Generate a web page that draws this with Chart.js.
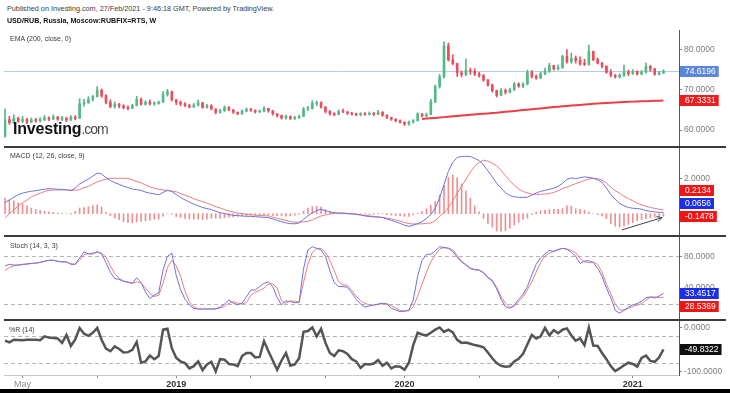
<!DOCTYPE html>
<html>
<head>
<meta charset="utf-8">
<title>USD/RUB weekly</title>
<script src="https://cdn.jsdelivr.net/npm/chart.js@4.4.1/dist/chart.umd.min.js"></script>
<style>
  html, body { margin: 0; padding: 0; background: #fff; }
  body { position: relative; width: 730px; height: 393px; overflow: hidden; font-family: "Liberation Sans", Arial, sans-serif; }
  canvas { position: absolute; left: 0; }
  .t { position: absolute; white-space: nowrap; color: #3c3c3c; font-size: 7px; line-height: 7px; }
  .sep { position: absolute; left: 4px; width: 722px; height: 2px; background: #3b3b3b; }
  #logo { position: absolute; left: 13px; top: 121px; line-height: 16px; white-space: nowrap; }
  #logo b { font-size: 16px; color: #111; letter-spacing: -0.2px; }
  #logo span { font-size: 14px; color: #4a4a4a; letter-spacing: -1px; }
  #foot { position: absolute; left: 0; top: 389px; width: 730px; height: 4px; background: #000; }
</style>
</head>
<body>
<canvas id="price" width="730" height="117" style="top:30px"></canvas>
<canvas id="macd" width="730" height="88" style="top:148px"></canvas>
<canvas id="stoch" width="730" height="83" style="top:237px"></canvas>
<canvas id="wr" width="730" height="69" style="top:320px"></canvas>
<div class="sep" style="top:146px"></div>
<div class="sep" style="top:235px"></div>
<div class="sep" style="top:319px"></div>
<div class="t" style="left:7px;top:5px;font-size:7.25px">Published on Investing.com, 27/Feb/2021 - 9:46:18 GMT, Powered by TradingView.</div>
<div class="t" style="left:7px;top:18px;font-weight:bold;color:#111;font-size:7.1px">USD/RUB, Russia, Moscow:RUBFIX=RTS, W</div>
<div class="t" style="left:10px;top:35px">EMA (200, close, 0)</div>
<div class="t" style="left:10px;top:152px">MACD (12, 26, close, 9)</div>
<div class="t" style="left:10px;top:242px">Stoch (14, 3, 3)</div>
<div class="t" style="left:9px;top:326px">%R (14)</div>
<div id="logo"><b>Investing</b><span>.com</span></div>
<div id="foot"></div>
<script>
// weekly bars, index 0 = first week on the chart (Apr 2018)
const xTickIdx = [4, 21, 39, 56, 73, 91, 108, 126, 143];
const xTickText = ["May", "", "2019", "", "", "2020", "", "", "2021"];
const priceTicks = [60, 70, 80];
const macdTicks = [2];
const stochTicks = [40, 80];
const stochLevels = [20, 80];
const wrTicks = [-100, 0];
const wrLevels = [-20, -80];

const firstOpen = 58.4;
const closes = [
  62.6, 61.8, 62.9, 62.2, 62.6, 62.0, 62.5, 62.3, 62.6, 63.0,
  62.7, 63.2, 62.7, 62.9, 62.5, 63.2, 62.9, 66.5, 66.8, 67.6,
  68.3, 69.9, 68.5, 66.9, 65.8, 66.4, 66.0, 65.6, 65.4, 66.1,
  67.6, 66.4, 66.9, 66.5, 66.6, 66.9, 68.8, 69.5, 67.5, 66.9,
  66.5, 66.1, 65.7, 66.2, 66.8, 65.6, 66.0, 65.2, 64.4, 64.8,
  65.6, 65.0, 64.4, 64.0, 64.7, 65.1, 64.9, 64.5, 64.7, 65.4,
  64.8, 64.0, 63.6, 63.0, 63.4, 62.9, 63.1, 63.4, 65.2, 65.3,
  66.6, 66.8, 65.7, 64.6, 64.0, 63.8, 64.6, 64.5, 64.2, 63.9,
  63.8, 64.0, 63.9, 64.1, 63.9, 64.4, 63.7, 63.1, 62.7, 62.3,
  61.9, 61.5, 62.0, 62.3, 64.0, 63.5, 63.8, 67.0, 70.8, 73.2,
  80.9, 77.4, 76.5, 74.2, 73.8, 74.8, 74.6, 73.9, 73.5, 72.4,
  71.2, 69.8, 68.6, 69.8, 69.4, 70.0, 71.5, 70.9, 71.4, 74.3,
  73.3, 72.9, 74.0, 74.6, 76.0, 75.2, 75.5, 78.3, 76.9, 77.8,
  77.3, 76.4, 76.3, 79.5, 77.5, 76.6, 75.8, 74.3, 73.6, 73.2,
  73.6, 74.4, 74.0, 74.5, 73.9, 74.4, 75.8, 75.2, 73.8, 74.2,
  74.6196
];
const highs = [
  65.2, 63.4, 63.8, 63.2, 63.4, 62.9, 63.0, 62.9, 63.1, 63.6,
  63.3, 63.8, 63.4, 63.4, 63.2, 63.6, 63.6, 67.8, 67.6, 68.3,
  68.6, 70.8, 70.2, 68.8, 67.5, 67.0, 66.6, 66.3, 66.0, 66.4,
  68.4, 68.0, 67.3, 67.5, 67.0, 67.2, 69.6, 70.1, 69.7, 67.6,
  67.2, 66.8, 66.4, 66.6, 67.5, 66.8, 66.4, 66.3, 65.3, 65.2,
  66.0, 65.8, 65.1, 64.5, 65.0, 65.5, 65.4, 65.0, 65.0, 65.8,
  65.4, 64.8, 64.1, 63.7, 63.7, 63.5, 63.4, 63.7, 65.6, 65.9,
  67.3, 67.2, 67.0, 65.8, 64.8, 64.3, 65.0, 65.2, 64.6, 64.4,
  64.2, 64.3, 64.3, 64.5, 64.4, 64.9, 64.6, 63.8, 63.2, 62.8,
  62.5, 62.1, 62.2, 62.6, 64.3, 64.1, 64.2, 67.6, 71.2, 73.8,
  81.9, 81.6, 78.7, 76.6, 74.7, 77.7, 75.4, 75.2, 74.3, 73.8,
  72.6, 71.4, 69.9, 70.3, 70.2, 70.4, 71.8, 71.7, 71.8, 74.9,
  74.8, 73.7, 74.4, 75.4, 76.6, 76.1, 76.2, 78.6, 80.0, 79.1,
  78.4, 78.2, 77.6, 81.1, 79.6, 77.9, 76.8, 76.0, 75.0, 73.8,
  74.0, 76.1, 74.9, 75.0, 74.7, 74.8, 76.6, 76.0, 75.3, 74.6,
  75.0
];
const lows = [
  58.2, 61.4, 61.6, 61.9, 61.8, 61.6, 61.8, 61.9, 62.0, 62.3,
  62.3, 62.6, 62.4, 62.3, 62.1, 62.3, 62.5, 62.9, 65.9, 66.6,
  67.2, 68.2, 68.1, 66.5, 65.5, 65.4, 65.5, 65.2, 65.0, 65.3,
  66.0, 66.2, 66.2, 66.2, 66.1, 66.4, 66.8, 68.4, 67.2, 66.3,
  66.0, 65.8, 65.5, 65.6, 66.0, 65.4, 65.4, 65.0, 64.0, 64.2,
  64.6, 64.8, 64.1, 63.8, 63.9, 64.5, 64.6, 64.2, 64.3, 64.5,
  64.4, 63.7, 63.2, 62.7, 62.7, 62.6, 62.6, 62.9, 63.3, 64.8,
  65.2, 66.0, 65.4, 64.2, 63.7, 63.5, 63.8, 64.3, 63.8, 63.7,
  63.5, 63.5, 63.6, 63.7, 63.6, 63.8, 63.4, 62.8, 62.4, 62.0,
  61.7, 61.1, 61.2, 61.7, 62.2, 63.2, 63.3, 63.8, 66.8, 70.4,
  72.9, 77.1, 76.2, 73.3, 73.2, 73.5, 73.8, 73.5, 73.1, 72.1,
  70.9, 69.4, 68.2, 68.5, 68.9, 69.2, 69.8, 70.6, 70.5, 71.2,
  72.9, 72.6, 72.8, 73.7, 74.3, 74.9, 74.9, 75.3, 76.6, 76.6,
  76.6, 76.1, 76.0, 76.1, 77.2, 76.4, 75.4, 74.1, 73.2, 72.9,
  72.9, 73.3, 73.5, 73.8, 73.6, 73.7, 74.1, 74.6, 73.6, 73.7,
  74.0
];
const emaFrom = 95;
const ema200 = [
  62.75, 62.84, 62.93, 63.01, 63.10, 63.20, 63.30, 63.40, 63.50, 63.60,
  63.69, 63.78, 63.87, 63.95, 64.04, 64.13, 64.22, 64.30, 64.41, 64.52,
  64.62, 64.73, 64.84, 64.94, 65.05, 65.16, 65.26, 65.37, 65.48, 65.58,
  65.69, 65.80, 65.90, 65.99, 66.07, 66.16, 66.24, 66.33, 66.41, 66.50,
  66.57, 66.64, 66.71, 66.78, 66.85, 66.91, 66.96, 67.01, 67.05, 67.09,
  67.13, 67.17, 67.21, 67.25, 67.29, 67.3331
];

const macdLine = [
  0.63, 0.78, 0.93, 1.07, 1.16, 1.22, 1.27, 1.30, 1.34, 1.38,
  1.41, 1.40, 1.38, 1.36, 1.35, 1.30, 1.45, 1.68, 1.82, 1.95,
  2.12, 2.29, 2.25, 2.03, 1.88, 1.75, 1.66, 1.55, 1.48, 1.39,
  1.36, 1.31, 1.22, 1.16, 1.12, 1.07, 1.20, 1.32, 1.25, 1.08,
  0.92, 0.78, 0.65, 0.54, 0.45, 0.35, 0.29, 0.23, 0.14, 0.05,
  0.01, -0.05, -0.09, -0.11, -0.13, -0.15, -0.15, -0.17, -0.19, -0.20,
  -0.23, -0.30, -0.38, -0.45, -0.52, -0.56, -0.57, -0.52, -0.32, -0.12,
  0.05, 0.18, 0.25, 0.17, 0.10, 0.05, 0.03, 0.02, 0.00, -0.01,
  -0.04, -0.07, -0.13, -0.16, -0.18, -0.19, -0.22, -0.30, -0.38, -0.46,
  -0.55, -0.65, -0.72, -0.65, -0.56, -0.45, -0.27, -0.05, 0.30, 0.90,
  1.65, 2.39, 2.90, 3.18, 3.23, 3.24, 3.23, 3.12, 3.00, 2.75,
  2.42, 2.08, 1.72, 1.45, 1.18, 1.03, 0.96, 0.92, 0.92, 0.93,
  1.05, 1.17, 1.26, 1.32, 1.38, 1.44, 1.55, 1.71, 1.94, 2.02,
  1.98, 2.03, 2.08, 2.05, 2.00, 1.92, 1.78, 1.45, 1.08, 0.82,
  0.58, 0.45, 0.35, 0.31, 0.29, 0.26, 0.18, 0.13, 0.10, 0.08,
  0.0656
];
const signalLine = [
  -0.25, 0.00, 0.20, 0.45, 0.62, 0.77, 0.95, 1.06, 1.15, 1.25,
  1.31, 1.33, 1.34, 1.35, 1.35, 1.33, 1.32, 1.36, 1.47, 1.55,
  1.67, 1.80, 1.88, 1.95, 2.00, 2.00, 2.00, 2.00, 1.99, 1.91,
  1.82, 1.75, 1.62, 1.52, 1.43, 1.38, 1.34, 1.32, 1.28, 1.24,
  1.14, 1.05, 0.95, 0.85, 0.76, 0.68, 0.60, 0.50, 0.40, 0.32,
  0.24, 0.15, 0.09, 0.04, 0.00, -0.04, -0.06, -0.08, -0.10, -0.11,
  -0.13, -0.20, -0.26, -0.32, -0.38, -0.44, -0.48, -0.48, -0.46, -0.43,
  -0.35, -0.24, -0.13, -0.07, -0.02, 0.02, 0.04, 0.04, 0.02, -0.01,
  -0.03, -0.07, -0.10, -0.12, -0.15, -0.18, -0.21, -0.25, -0.30, -0.36,
  -0.42, -0.50, -0.56, -0.58, -0.58, -0.57, -0.55, -0.52, -0.40, -0.15,
  0.05, 0.34, 0.72, 1.15, 1.55, 1.95, 2.35, 2.68, 2.90, 3.02,
  2.97, 2.85, 2.70, 2.45, 2.15, 1.85, 1.60, 1.40, 1.25, 1.18,
  1.10, 1.08, 1.09, 1.11, 1.14, 1.20, 1.30, 1.42, 1.50, 1.60,
  1.70, 1.78, 1.88, 1.96, 2.00, 1.98, 1.90, 1.72, 1.50, 1.30,
  1.15, 0.98, 0.85, 0.73, 0.60, 0.50, 0.42, 0.35, 0.30, 0.25,
  0.2134
];
const macdHist = [
  0.88, 0.78, 0.73, 0.62, 0.54, 0.45, 0.32, 0.24, 0.19, 0.13,
  0.10, 0.07, 0.04, 0.01, 0.00, -0.03, 0.13, 0.32, 0.35, 0.40,
  0.45, 0.49, 0.37, 0.08, -0.12, -0.25, -0.34, -0.45, -0.51, -0.52,
  -0.46, -0.44, -0.40, -0.36, -0.31, -0.31, -0.14, 0.00, -0.03, -0.16,
  -0.22, -0.27, -0.30, -0.31, -0.31, -0.33, -0.31, -0.27, -0.26, -0.27,
  -0.23, -0.20, -0.18, -0.15, -0.13, -0.11, -0.09, -0.09, -0.09, -0.09,
  -0.10, -0.10, -0.12, -0.13, -0.14, -0.12, -0.09, -0.04, 0.14, 0.31,
  0.40, 0.42, 0.38, 0.24, 0.12, 0.03, -0.01, -0.02, -0.02, 0.00,
  -0.01, 0.00, -0.03, -0.04, -0.03, -0.01, -0.01, -0.05, -0.08, -0.10,
  -0.13, -0.15, -0.16, -0.07, 0.02, 0.12, 0.28, 0.47, 0.70, 1.05,
  1.60, 2.05, 2.18, 2.03, 1.68, 1.29, 0.88, 0.44, 0.10, -0.27,
  -0.55, -0.77, -0.98, -1.00, -0.97, -0.82, -0.64, -0.48, -0.33, -0.25,
  -0.05, 0.09, 0.17, 0.21, 0.24, 0.24, 0.25, 0.29, 0.44, 0.42,
  0.28, 0.25, 0.20, 0.09, 0.00, -0.06, -0.12, -0.27, -0.55, -0.70,
  -0.75, -0.70, -0.60, -0.50, -0.40, -0.32, -0.28, -0.24, -0.20, -0.17,
  -0.1478
];
const macdArrow = [[140.5, -0.92], [149.7, -0.22]];

const stochK = [
  68, 70, 69, 69, 70, 70.5, 71, 71.5, 72.5, 74,
  75, 75, 73.5, 73, 73, 70, 70, 78, 85.5, 83,
  83, 86, 83, 72, 60, 52, 51, 48.5, 47.5, 46,
  53, 47, 35, 27, 31, 34, 63, 80, 84, 56,
  38, 26, 19, 14.5, 13.7, 13.7, 13.7, 13.7, 14, 16,
  20, 25, 21, 19, 21, 29, 37.6, 37.6, 42, 46,
  48, 42, 28, 19, 24, 23, 21.5, 22, 64, 88,
  92, 90, 88, 80, 62, 47, 42, 42, 41, 34,
  26, 20, 16, 17.5, 18.7, 20, 21, 20, 14.6, 12.5,
  10.5, 11, 12.5, 25, 55, 75, 82.5, 82.5, 87, 92,
  91, 90, 86, 79, 73, 69, 64.5, 63, 62.5, 59,
  53, 49, 39, 26, 16.6, 14.6, 18.5, 26, 32, 42,
  56.5, 70, 78, 83, 87.5, 86, 88.5, 90, 89, 85,
  80, 71, 74, 74.5, 72, 65, 55, 40, 28, 12,
  8.5, 12, 16, 19, 20.5, 23.5, 28, 29, 27.5, 30,
  33.4517
];
const stochD = [
  62, 66, 68, 69, 69.5, 70, 71, 71.3, 72.2, 73.5,
  75, 75, 74, 73, 73, 70.5, 70, 75, 82, 83.5,
  84, 85, 84, 79, 68, 58, 52.5, 49, 47.5, 46,
  48, 46.5, 40, 33, 29.5, 31, 46, 66, 75, 68,
  55, 36, 23, 16.5, 14, 13.7, 13.7, 13.7, 13.7, 15,
  17, 21, 22.9, 21, 20, 22, 31, 35, 37, 40,
  45, 45.5, 40, 24, 21, 24, 23.5, 22.5, 47, 70,
  85, 90, 90, 85, 75, 62, 48, 44, 43.5, 37,
  30, 24, 21, 18.7, 18.7, 19.5, 20.5, 20.3, 18, 15,
  12, 11, 11.5, 16.6, 30, 45, 60, 73, 82, 89,
  91, 90.5, 88, 81, 74, 69.5, 65.5, 63.5, 62.8, 60,
  54, 50, 41, 29, 20.9, 15.9, 17, 23, 29, 38,
  48, 60, 72, 80.5, 83.8, 86.5, 88.5, 90, 89, 87.5,
  84.5, 77, 73, 72, 73, 70, 60, 45, 33, 20,
  12.5, 12.5, 14.5, 17, 18.5, 20.5, 25, 28.5, 29, 28,
  28.5369
];
const williamsR = [
  -30, -34, -28, -28.5, -29, -28, -28, -28, -29, -20,
  -23, -24, -25, -35, -17, -42, -27, -1, -14, -19,
  -12, -1, -28, -48, -54, -43, -49, -57, -56, -51,
  -33, -80, -77, -64, -72, -65, -5, -3, -47, -69,
  -77, -81, -93, -88, -77, -97, -84, -78, -100, -72,
  -73, -83, -84, -88, -65, -58, -58, -68, -67, -31,
  -54, -75, -96, -75, -58, -87, -84, -70, -10, -8,
  0, -20, -3, -35, -58, -65, -52, -54, -60, -72,
  -77, -92, -83, -84, -82, -74, -87, -80, -93, -88,
  -89, -96, -80, -40, -12, -16, -18, -12, -5, 0,
  -10, -5, -11, -28, -35, -34, -37, -40, -42, -45,
  -57, -70, -81, -87, -89, -88, -77, -71, -60, -38,
  -17, -25, -20, -1, -18, -6, -13, -5, -2, -18,
  -30, -25, -40, 0, -41, -42, -58, -72, -88, -99,
  -93, -86, -80, -83, -89, -69, -64, -76, -78, -68,
  -49.8322
];

// ---- styling ----
const UP = "#53b987";
const DOWN = "#eb4d5c";
const BLUE = "#6a72e6";
const RED = "#ee7c7c";
const FONT = '"Liberation Sans", Arial, sans-serif';
const X_MIN = -0.23, X_MAX = 153.53;
const AXIS_W = 51;

const last = (a) => a[a.length - 1];
const pts = (a, from = 0) => a.map((v, i) => ({ x: i + from, y: v }));
const opens = closes.map((c, i) => (i === 0 ? firstOpen : closes[i - 1]));
const candleCol = closes.map((c, i) => (c >= opens[i] ? UP : DOWN));

function lineDs(data, color, width) {
  return { type: "line", data, borderColor: color, borderWidth: width, pointRadius: 0, tension: 0, fill: false };
}

function xAxis(show) {
  return {
    type: "linear", min: X_MIN, max: X_MAX, display: show, offset: false,
    afterFit: (s) => {
      s.paddingLeft = 0;
      s.paddingRight = 0;
      if (show) s.height = 14;
    },
    afterBuildTicks: (s) => { s.ticks = xTickIdx.map((v) => ({ value: v })); },
    grid: { drawOnChartArea: false, drawTicks: true, tickLength: 3, color: "#8a8a8a", offset: false },
    border: { display: true, color: "#c8c8c8" },
    ticks: {
      autoSkip: false, maxRotation: 0, padding: 1,
      callback: (v, k) => xTickText[k],
      color: (c) => (xTickText[c.index] === "May" ? "#8c8c8c" : "#333"),
      font: (c) => ({ size: 9, family: FONT, weight: xTickText[c.index] === "May" ? "normal" : "bold" }),
    },
  };
}

function yAxis(min, max, ticks) {
  return {
    position: "right", min, max, beginAtZero: false,
    afterFit: (s) => { s.width = AXIS_W; s.paddingTop = 0; s.paddingBottom = 0; },
    afterBuildTicks: (s) => { s.ticks = ticks.map((v) => ({ value: v })); },
    grid: { drawOnChartArea: false, drawTicks: true, tickLength: 3, color: "#888" },
    border: { display: true, color: "#555", width: 1 },
    ticks: { padding: 2, color: "#7d7d7d", font: { size: 8.5, family: FONT }, callback: (v) => Number(v).toFixed(4) },
  };
}

// reference lines, value boxes and the arrow head
const overlay = {
  id: "overlay",
  beforeDatasetsDraw(chart, args, o) {
    const { ctx, chartArea: a } = chart;
    const y = chart.scales.y;
    (o.levels || []).forEach((l) => {
      const py = Math.round(y.getPixelForValue(l.value)) + 0.5;
      ctx.save();
      ctx.strokeStyle = l.color;
      ctx.lineWidth = 1;
      ctx.setLineDash(l.dash || []);
      ctx.beginPath();
      ctx.moveTo(a.left, py);
      ctx.lineTo(a.right, py);
      ctx.stroke();
      ctx.restore();
    });
  },
  afterDraw(chart, args, o) {
    const { ctx, chartArea: a } = chart;
    const y = chart.scales.y, x = chart.scales.x;
    if (o.arrow) {
      const p0 = o.arrow[0], p1 = o.arrow[1];
      const x0 = x.getPixelForValue(p0[0]), y0 = y.getPixelForValue(p0[1]);
      const x1 = x.getPixelForValue(p1[0]), y1 = y.getPixelForValue(p1[1]);
      const ang = Math.atan2(y1 - y0, x1 - x0);
      ctx.save();
      ctx.strokeStyle = "#444";
      ctx.lineWidth = 1;
      ctx.beginPath();
      ctx.moveTo(x1 - 6 * Math.cos(ang - 0.45), y1 - 6 * Math.sin(ang - 0.45));
      ctx.lineTo(x1, y1);
      ctx.lineTo(x1 - 6 * Math.cos(ang + 0.45), y1 - 6 * Math.sin(ang + 0.45));
      ctx.stroke();
      ctx.restore();
    }
    const items = (o.boxes || [])
      .map((b) => ({ ...b, py: y.getPixelForValue(b.value) }))
      .sort((p, q) => p.py - q.py);
    const step = 13;
    if (o.anchor === "bottom") {
      for (let k = items.length - 2; k >= 0; k--) items[k].py = Math.min(items[k].py, items[k + 1].py - step);
    } else {
      for (let k = 1; k < items.length; k++) items[k].py = Math.max(items[k].py, items[k - 1].py + step);
    }
    ctx.save();
    ctx.font = "8.5px " + FONT;
    ctx.textBaseline = "middle";
    items.forEach((b) => {
      const text = b.value.toFixed(4);
      const w = ctx.measureText(text).width + 8;
      const bx = a.right + 1;
      const by = Math.round(b.py - 5.5);
      ctx.fillStyle = b.color;
      ctx.fillRect(bx, by, w, 11);
      ctx.fillStyle = "#fff";
      ctx.fillText(text, bx + 5, by + 6);
    });
    ctx.restore();
  },
};

function panel(id, datasets, y, extra) {
  return new Chart(document.getElementById(id), {
    type: "bar",
    data: { datasets },
    options: {
      responsive: false,
      animation: false,
      devicePixelRatio: 1,
      events: [],
      layout: { padding: { left: 4, right: 0, top: 0, bottom: 0 } },
      plugins: { legend: { display: false }, tooltip: { enabled: false }, overlay: extra },
      scales: { x: xAxis(id === "wr"), y },
    },
    plugins: [overlay],
  });
}

// price pane: candles + EMA 200
panel(
  "price",
  [
    lineDs(pts(ema200, emaFrom), "#ef3d45", 2),
    {
      data: closes.map((c, i) => ({ x: i, y: [opens[i], c] })),
      backgroundColor: candleCol, barThickness: 2, grouped: false, borderWidth: 0, minBarLength: 1,
    },
    {
      data: closes.map((c, i) => ({ x: i, y: [lows[i], highs[i]] })),
      backgroundColor: candleCol, barThickness: 1, grouped: false, borderWidth: 0,
    },
  ],
  yAxis(55.78, 84.84, priceTicks),
  {
    levels: [{ value: last(closes), color: "#b9cbe8" }],
    boxes: [
      { value: last(closes), color: "#5b87d9" },
      { value: last(ema200), color: "#ee1c1c" },
    ],
  }
);

// MACD pane
panel(
  "macd",
  [
    lineDs(macdArrow.map((p) => ({ x: p[0], y: p[1] })), "#444", 1),
    lineDs(pts(macdLine), BLUE, 1),
    lineDs(pts(signalLine), RED, 1),
    { data: pts(macdHist), backgroundColor: "#ee9090", barThickness: 1, grouped: false, borderWidth: 0 },
  ],
  yAxis(-1.26, 3.71, macdTicks),
  {
    anchor: "bottom",
    arrow: macdArrow,
    boxes: [
      { value: last(signalLine), color: "#f01414" },
      { value: last(macdLine), color: "#1b2fe8" },
      { value: last(macdHist), color: "#f01414" },
    ],
  }
);

// Stochastic pane
panel(
  "stoch",
  [lineDs(pts(stochK), BLUE, 1), lineDs(pts(stochD), RED, 1)],
  yAxis(-0.1, 104.3, stochTicks),
  {
    anchor: "top",
    levels: stochLevels.map((v) => ({ value: v, color: "#b4b4b4", dash: [4, 3] })),
    boxes: [
      { value: last(stochK), color: "#1b2fe8" },
      { value: last(stochD), color: "#f01414" },
    ],
  }
);

// Williams %R pane with the time axis
panel(
  "wr",
  [lineDs(pts(williamsR), "#555", 2.5)],
  yAxis(-108, 17, wrTicks),
  {
    levels: wrLevels.map((v) => ({ value: v, color: "#b4b4b4", dash: [4, 3] })),
    boxes: [{ value: last(williamsR), color: "#111" }],
  }
);
</script>
</body>
</html>
